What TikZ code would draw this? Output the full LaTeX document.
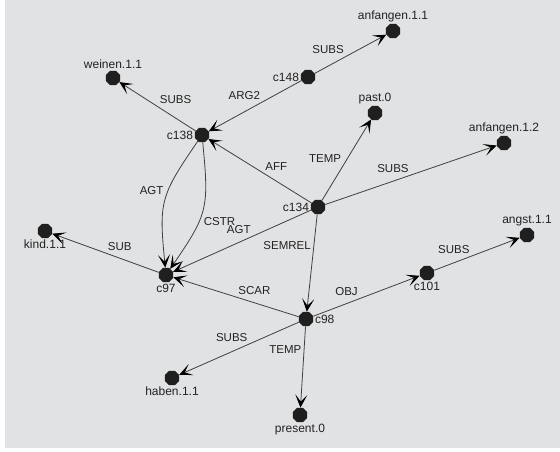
\documentclass[tikz,border=0pt]{standalone}
\usepackage{fontspec}
\setmainfont{Liberation Sans}
\usepackage{tikz}
\usetikzlibrary{arrows.meta, shapes.geometric}
\definecolor{bgcol}{RGB}{225,226,228}
\definecolor{inkcol}{RGB}{34,34,34}

\begin{document}
\begin{tikzpicture}[x=1pt, y=-1pt, auto,
    arr/.style={-{Stealth[length=13pt,width=12pt,inset=7pt,black]}, draw=black!75, line width=0.8pt},
    vert/.style={regular polygon, regular polygon sides=8, fill=black!88, minimum size=15.5pt, inner sep=0pt},
    every label/.style={text=inkcol, inner sep=1.5pt, font=\fontsize{12}{14}\selectfont},
    rel/.style={text=inkcol, inner sep=2pt, font=\fontsize{11.5}{13}\selectfont}]
      \useasboundingbox (0,0) rectangle (560,451);
      \fill[bgcol] (5,0) rectangle (560,448);
      % concept nodes
      \node[vert, label=above:weinen.1.1] (weinen) at (113,78) {};
      \node[vert, label=above:anfangen.1.1] (anf11) at (393,31) {};
      \node[vert, label=left:c148] (c148) at (308,77) {};
      \node[vert, label=left:c138] (c138) at (202,135) {};
      \node[vert, label=above:past.0] (past) at (375,113) {};
      \node[vert, label=above:anfangen.1.2] (anf12) at (504,143) {};
      \node[vert, label=left:c134] (c134) at (318,207) {};
      \node[vert, label=below:kind.1.1] (kind) at (45,231) {};
      \node[vert, label=below:c97] (c97) at (166,275) {};
      \node[vert, label=below:c101] (c101) at (427,273) {};
      \node[vert, label=above:angst.1.1] (angst) at (527,235) {};
      \node[vert, label=right:c98] (c98) at (306,319) {};
      \node[vert, label=below:haben.1.1] (haben) at (172,378) {};
      \node[vert, label=below:present.0] (present) at (300,415) {};
      % edges out of c148 and c138
      \draw[arr] (c148) -- node[rel, pos=.44] {SUBS} (anf11);
      \draw[arr] (c148) -- node[rel, swap, pos=.42] {ARG2} (c138);
      \draw[arr] (c138) -- node[rel, swap] {SUBS} (weinen);
      \draw[arr] (c138) to[bend right=20, looseness=1.3] node[rel, swap, pos=.47] {AGT} (c97);
      \draw[arr] (c138) to[bend left=20, looseness=1.3] node[rel, pos=.55] {CSTR} (c97);
      % edges out of c134
      \draw[arr] (c134) -- node[rel, swap, pos=.47] {AFF} (c138);
      \draw[arr] (c134) -- node[rel, pos=.44] {TEMP} (past);
      \draw[arr] (c134) -- node[rel] {SUBS} (anf12);
      \draw[arr] (c134) -- node[rel, swap, pos=.42] {AGT} (c97);
      \draw[arr] (c134) -- node[rel, swap, pos=.39] {SEMREL} (c98);
      % edges out of c97, c98 and c101
      \draw[arr] (c97) -- node[rel, swap] {SUB} (kind);
      \draw[arr] (c98) -- node[rel, swap, pos=.5] {SCAR} (c97);
      \draw[arr] (c98) -- node[rel, pos=.44] {OBJ} (c101);
      \draw[arr] (c98) -- node[rel, swap, pos=.41] {SUBS} (haben);
      \draw[arr] (c98) -- node[rel, swap, pos=.36] {TEMP} (present);
      \draw[arr] (c101) -- node[rel, pos=.44] {SUBS} (angst);
\end{tikzpicture}
\end{document}
